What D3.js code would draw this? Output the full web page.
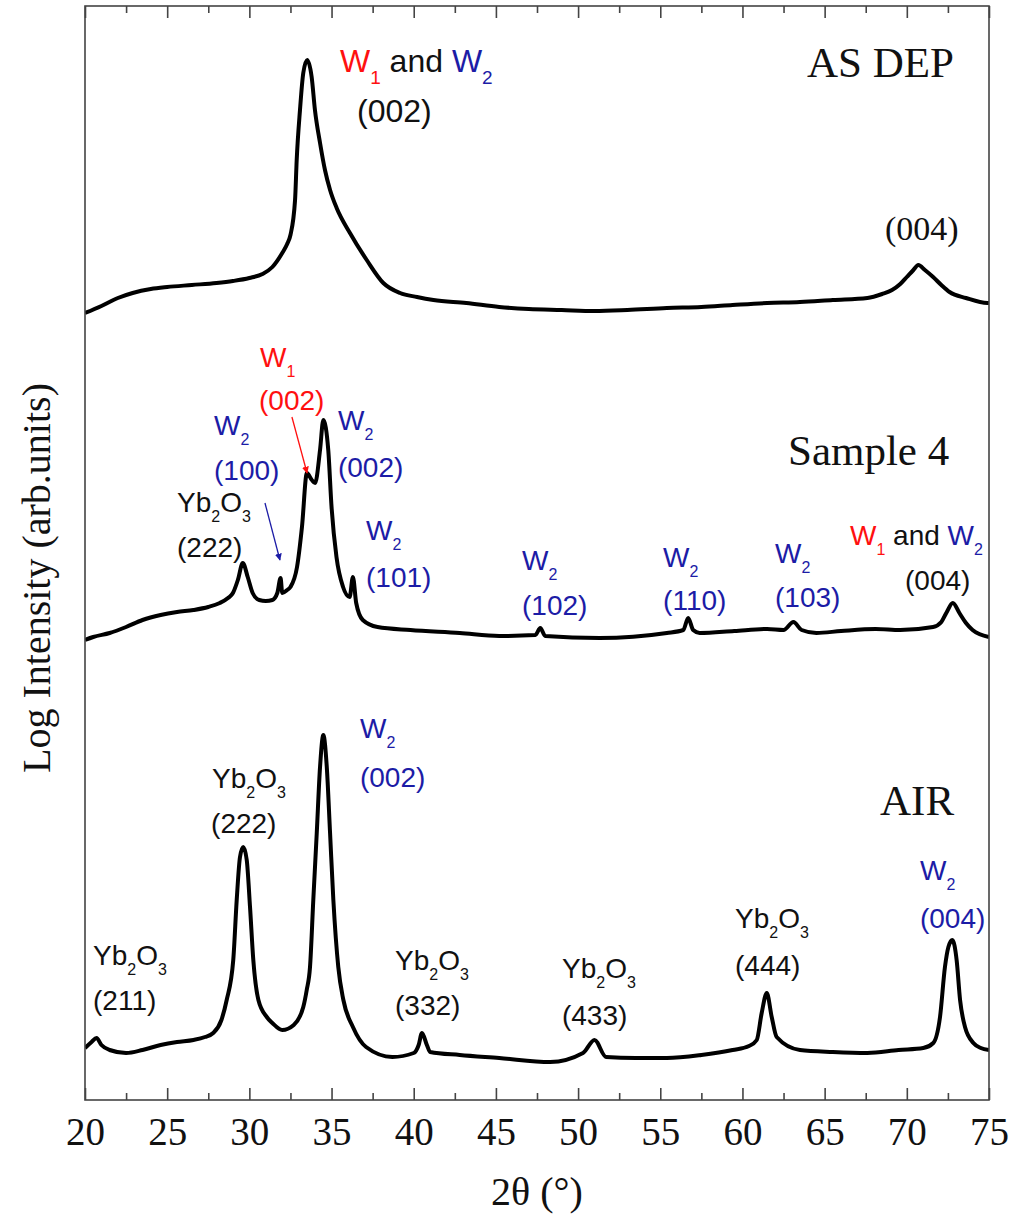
<!DOCTYPE html>
<html>
<head>
<meta charset="utf-8">
<script src="https://cdn.jsdelivr.net/npm/d3@7"></script>
<style>
  body { margin: 0; background: #fff; }
</style>
</head>
<body>
<div id="xrd"></div>
<script>
// 2theta positions and offset log intensities
var asDep2T = [20.0, 21.0, 22.0, 22.9, 24.0, 25.0, 26.5, 28.0, 29.0, 30.0, 30.8, 31.4, 32.0, 32.3, 32.5, 32.78, 32.88, 33.08, 33.28, 33.52,
               33.79, 33.99, 34.30, 34.60, 34.91, 35.31, 36.12, 37.14, 38.15, 39.17, 40.2, 41.2, 43.2, 45.2, 47.0, 49.0, 51.0, 53.0, 55.4, 57.5,
               59.4, 61.5, 63.5, 65.5, 67.6, 68.5, 69.1, 69.6, 70.0, 70.4, 70.7, 71.1, 71.6, 72.1, 72.6, 73.6, 74.9, 75.0];
var asDepI  = [787, 794, 802, 807, 811, 813, 815, 817, 819, 822, 826, 833, 847, 856, 865, 900, 940, 990, 1027, 1040,
               1023, 990, 957, 930, 910, 892, 867, 840, 817, 807, 803, 800, 797, 793, 791, 790, 789, 790, 792, 793,
               795, 797, 798, 800, 802, 806, 810, 816, 823, 830, 835, 830, 823, 815, 808, 802, 797, 797];

var sample2T = [20.0, 20.5, 21.5, 22.5, 23.5, 24.6, 25.6, 26.6, 27.5, 28.2, 28.7, 29.0, 29.3, 29.6, 29.9, 30.2, 30.6, 31.0, 31.4, 31.7,
                31.9, 32.0, 32.3, 32.5, 32.9, 33.2, 33.5, 33.8, 34.0, 34.3, 34.5, 34.8, 35.0, 35.3, 35.7, 36.1, 36.3, 36.5, 36.9, 37.8,
                39.8, 42.8, 45.2, 47.4, 47.7, 48.0, 51.3, 55.4, 56.4, 56.7, 57.0, 57.4, 59.5, 61.5, 62.5, 63.1, 63.6, 64.5, 66.0, 68.1,
                69.6, 71.6, 72.1, 72.4, 72.8, 73.2, 73.6, 74.0, 75.0];
var sampleI  = [460, 463, 467, 473, 480, 485, 488, 490, 493, 497, 502, 507, 520, 537, 523, 507, 500, 499, 500, 507,
                522, 507, 510, 513, 533, 573, 627, 620, 617, 650, 680, 650, 593, 543, 513, 503, 523, 497, 480, 473,
                470, 467, 464, 465, 472, 464, 462, 467, 470, 482, 470, 467, 469, 471, 470, 478, 470, 467, 469, 471,
                470, 473, 478, 487, 497, 487, 477, 470, 463];

var air2T = [20.0, 20.4, 20.7, 21.0, 21.5, 22.5, 23.5, 24.6, 25.6, 26.6, 27.3, 27.8, 28.3, 28.62, 29.02, 29.23, 29.43, 29.63, 29.84, 30.04,
             30.24, 30.55, 31.06, 31.4, 32.0, 32.7, 33.28, 33.49, 33.69, 33.89, 34.10, 34.30, 34.50, 34.71, 34.91, 35.11, 35.41, 35.72, 36.3, 37.1,
             38.7, 40.0, 40.3, 40.5, 40.8, 41.0, 42.8, 45.2, 48.3, 50.3, 51.0, 51.7, 53.5, 55.4, 57.5, 59.4, 60.4, 60.87, 61.17, 61.48,
             61.78, 62.08, 63.5, 65.5, 67.6, 69.5, 71.0, 71.61, 72.02, 72.32, 72.53, 72.77, 73.03, 73.24, 73.54, 74.05, 74.5, 75.0];
var airI  = [52, 58, 62, 55, 50, 47, 50, 55, 58, 60, 63, 67, 80, 100, 140, 200, 243, 253, 240, 193,
             140, 100, 83, 77, 70, 75, 93, 110, 133, 200, 267, 333, 365, 333, 267, 200, 133, 100, 73, 53,
             43, 47, 55, 67, 55, 48, 45, 42, 38, 47, 60, 43, 42, 42, 45, 50, 54, 60, 87, 107,
             83, 63, 50, 48, 47, 50, 52, 57, 83, 133, 153, 160, 140, 100, 73, 57, 52, 50];

var majorTicks = [20, 25, 30, 35, 40, 45, 50, 55, 60, 65, 70, 75];
var minorTicks = [22.5, 27.5, 32.5, 37.5, 42.5, 47.5, 52.5, 57.5, 62.5, 67.5, 72.5];

var sampleNames = ["AS DEP", "Sample 4", "AIR"];
var sampleNameAt = [[63.93, 1023], [62.77, 635], [68.37, 285]];

// peak labels: segments are [text, colour key, subscript?]
var peakLabelText = [
  [["W","r"],["1","r",1],[" and ","k"],["W","b"],["2","b",1]],
  [["(002)","k"]],
  [["W","r"],["1","r",1]],
  [["(002)","r"]],
  [["W","b"],["2","b",1]],
  [["(100)","b"]],
  [["Yb","k"],["2","k",1],["O","k"],["3","k",1]],
  [["(222)","k"]],
  [["W","b"],["2","b",1]],
  [["(002)","b"]],
  [["W","b"],["2","b",1]],
  [["(101)","b"]],
  [["W","b"],["2","b",1]],
  [["(102)","b"]],
  [["W","b"],["2","b",1]],
  [["(110)","b"]],
  [["W","b"],["2","b",1]],
  [["(103)","b"]],
  [["W","r"],["1","r",1],[" and ","k"],["W","b"],["2","b",1]],
  [["(004)","k"]],
  [["Yb","k"],["2","k",1],["O","k"],["3","k",1]],
  [["(211)","k"]],
  [["Yb","k"],["2","k",1],["O","k"],["3","k",1]],
  [["(222)","k"]],
  [["W","b"],["2","b",1]],
  [["(002)","b"]],
  [["Yb","k"],["2","k",1],["O","k"],["3","k",1]],
  [["(332)","k"]],
  [["Yb","k"],["2","k",1],["O","k"],["3","k",1]],
  [["(433)","k"]],
  [["Yb","k"],["2","k",1],["O","k"],["3","k",1]],
  [["(444)","k"]],
  [["W","b"],["2","b",1]],
  [["(004)","b"]]
];
var peakLabelAt = [
  [35.51, 1028], [36.55, 978],
  [30.65, 733], [30.59, 690], [27.85, 665], [27.85, 620], [25.60, 588], [25.60, 543],
  [35.39, 670], [35.39, 623], [37.10, 560], [37.10, 513], [46.59, 530], [46.59, 485],
  [55.17, 533], [55.17, 490], [61.98, 537], [61.98, 493], [66.54, 555], [69.89, 510],
  [20.49, 135], [20.49, 90], [27.73, 312], [27.67, 267], [36.73, 362], [36.73, 313],
  [38.86, 130], [38.86, 85], [49.02, 122], [49.02, 75], [59.55, 172], [59.55, 125],
  [70.80, 220], [70.80, 172]
];

// arrows: [from 2theta, from I, to 2theta, to I]
var arrowAt = [[32.59, 683, 33.51, 627], [30.95, 597, 31.86, 540]];
var arrowColour = ["r", "b"];

function drawXrd(){
  var width = 1015,
      height = 1228,
      left = 85, right = 989, top = 6, bottom = 1100;
  var colours = {r: "#ff1010", b: "#1c1ca6", k: "#111"};
  var serif = "'Liberation Serif', 'Times New Roman', serif",
      sans = "'Liberation Sans', Arial, sans-serif";

  var svg = d3.select("#xrd")
              .append("svg")
              .attr("width", width)
              .attr("height", height);

  var x = d3.scaleLinear().domain([20, 75]).range([left, right]);
  var y = d3.scaleLinear().domain([0, 1094]).range([bottom, top]);

  var defs = svg.append("defs");
  ["r", "b"].forEach(function(k) {
    defs.append("marker")
        .attr("id", "head-" + k)
        .attr("viewBox", "0 0 10 10")
        .attr("refX", 9).attr("refY", 5)
        .attr("markerWidth", 7).attr("markerHeight", 7)
        .attr("markerUnits", "userSpaceOnUse")
        .attr("orient", "auto")
        .append("path")
        .attr("d", "M0,0 L10,5 L0,10 z")
        .attr("fill", colours[k]);
  });
  defs.append("clipPath").attr("id", "plot-clip")
      .append("rect").attr("x", left).attr("y", top)
      .attr("width", right - left).attr("height", bottom - top);

  // curves
  var line = d3.line()
               .x(function(d) { return x(d[0]); })
               .y(function(d) { return y(d[1]); })
               .curve(d3.curveMonotoneX);
  [[asDep2T, asDepI], [sample2T, sampleI], [air2T, airI]].forEach(function(s) {
    svg.append("path")
       .datum(d3.zip(s[0], s[1]))
       .attr("clip-path", "url(#plot-clip)")
       .attr("d", line)
       .attr("fill", "none")
       .attr("stroke", "#000")
       .attr("stroke-width", 4)
       .attr("stroke-linejoin", "round");
  });

  // frame
  svg.append("rect")
     .attr("x", left).attr("y", top)
     .attr("width", right - left).attr("height", bottom - top)
     .attr("fill", "none").attr("stroke", "#444").attr("stroke-width", 1.6);

  // bottom axis with labels, ticks pointing inwards
  var xAxis = svg.append("g")
     .attr("transform", "translate(0," + bottom + ")")
     .call(d3.axisBottom(x).tickValues(majorTicks).tickSizeInner(-12).tickSizeOuter(0).tickPadding(17));
  xAxis.select(".domain").remove();
  xAxis.selectAll("line").attr("stroke", "#444").attr("stroke-width", 1.6);
  xAxis.selectAll("text").attr("font-family", serif).attr("font-size", 39).attr("fill", "#111");

  var xMinor = svg.append("g")
     .attr("transform", "translate(0," + bottom + ")")
     .call(d3.axisBottom(x).tickValues(minorTicks).tickSizeInner(-7).tickSizeOuter(0).tickFormat(""));
  xMinor.select(".domain").remove();
  xMinor.selectAll("line").attr("stroke", "#444").attr("stroke-width", 1.6);

  // top axis, ticks only
  var xTop = svg.append("g")
     .attr("transform", "translate(0," + top + ")")
     .call(d3.axisTop(x).tickValues(majorTicks).tickSizeInner(-12).tickSizeOuter(0).tickFormat(""));
  xTop.select(".domain").remove();
  xTop.selectAll("line").attr("stroke", "#444").attr("stroke-width", 1.6);
  var xTopMinor = svg.append("g")
     .attr("transform", "translate(0," + top + ")")
     .call(d3.axisTop(x).tickValues(minorTicks).tickSizeInner(-7).tickSizeOuter(0).tickFormat(""));
  xTopMinor.select(".domain").remove();
  xTopMinor.selectAll("line").attr("stroke", "#444").attr("stroke-width", 1.6);

  // axis titles
  svg.append("text")
     .attr("x", (left + right) / 2).attr("y", 1205)
     .attr("text-anchor", "middle")
     .attr("font-family", serif).attr("font-size", 40).attr("fill", "#111")
     .text("2θ (°)");
  svg.append("text")
     .attr("transform", "translate(50,578) rotate(-90)")
     .attr("text-anchor", "middle")
     .attr("font-family", serif).attr("font-size", 40).attr("fill", "#111")
     .text("Log Intensity (arb.units)");

  // sample names
  sampleNames.forEach(function(name, i) {
    svg.append("text")
       .attr("x", x(sampleNameAt[i][0])).attr("y", y(sampleNameAt[i][1]))
       .attr("font-family", serif).attr("font-size", 43).attr("fill", "#111")
       .text(name);
  });

  // AS DEP (004) is set in the serif face in the original
  svg.append("text")
     .attr("x", x(68.67)).attr("y", y(860))
     .attr("font-family", serif).attr("font-size", 34).attr("fill", "#111")
     .text("(004)");

  // peak labels
  peakLabelText.forEach(function(parts, i) {
    var size = i < 2 ? 32 : 28,
        subSize = Math.round(size * 0.58),
        shift = Math.round(size * 0.36);
    var t = svg.append("text")
       .attr("x", x(peakLabelAt[i][0])).attr("y", y(peakLabelAt[i][1]))
       .attr("font-family", sans).attr("font-size", size);
    var down = false;
    parts.forEach(function(p) {
      var sp = t.append("tspan").attr("fill", colours[p[1]]).text(p[0]);
      if (p[2] && !down) { sp.attr("dy", shift).attr("font-size", subSize); down = true; }
      else if (p[2]) { sp.attr("font-size", subSize); }
      else if (down) { sp.attr("dy", -shift); down = false; }
    });
  });

  // arrows
  arrowAt.forEach(function(a, i) {
    svg.append("line")
       .attr("x1", x(a[0])).attr("y1", y(a[1]))
       .attr("x2", x(a[2])).attr("y2", y(a[3]))
       .attr("stroke", colours[arrowColour[i]]).attr("stroke-width", 1.3)
       .attr("marker-end", "url(#head-" + arrowColour[i] + ")");
  });
}

drawXrd();
</script>
</body>
</html>
